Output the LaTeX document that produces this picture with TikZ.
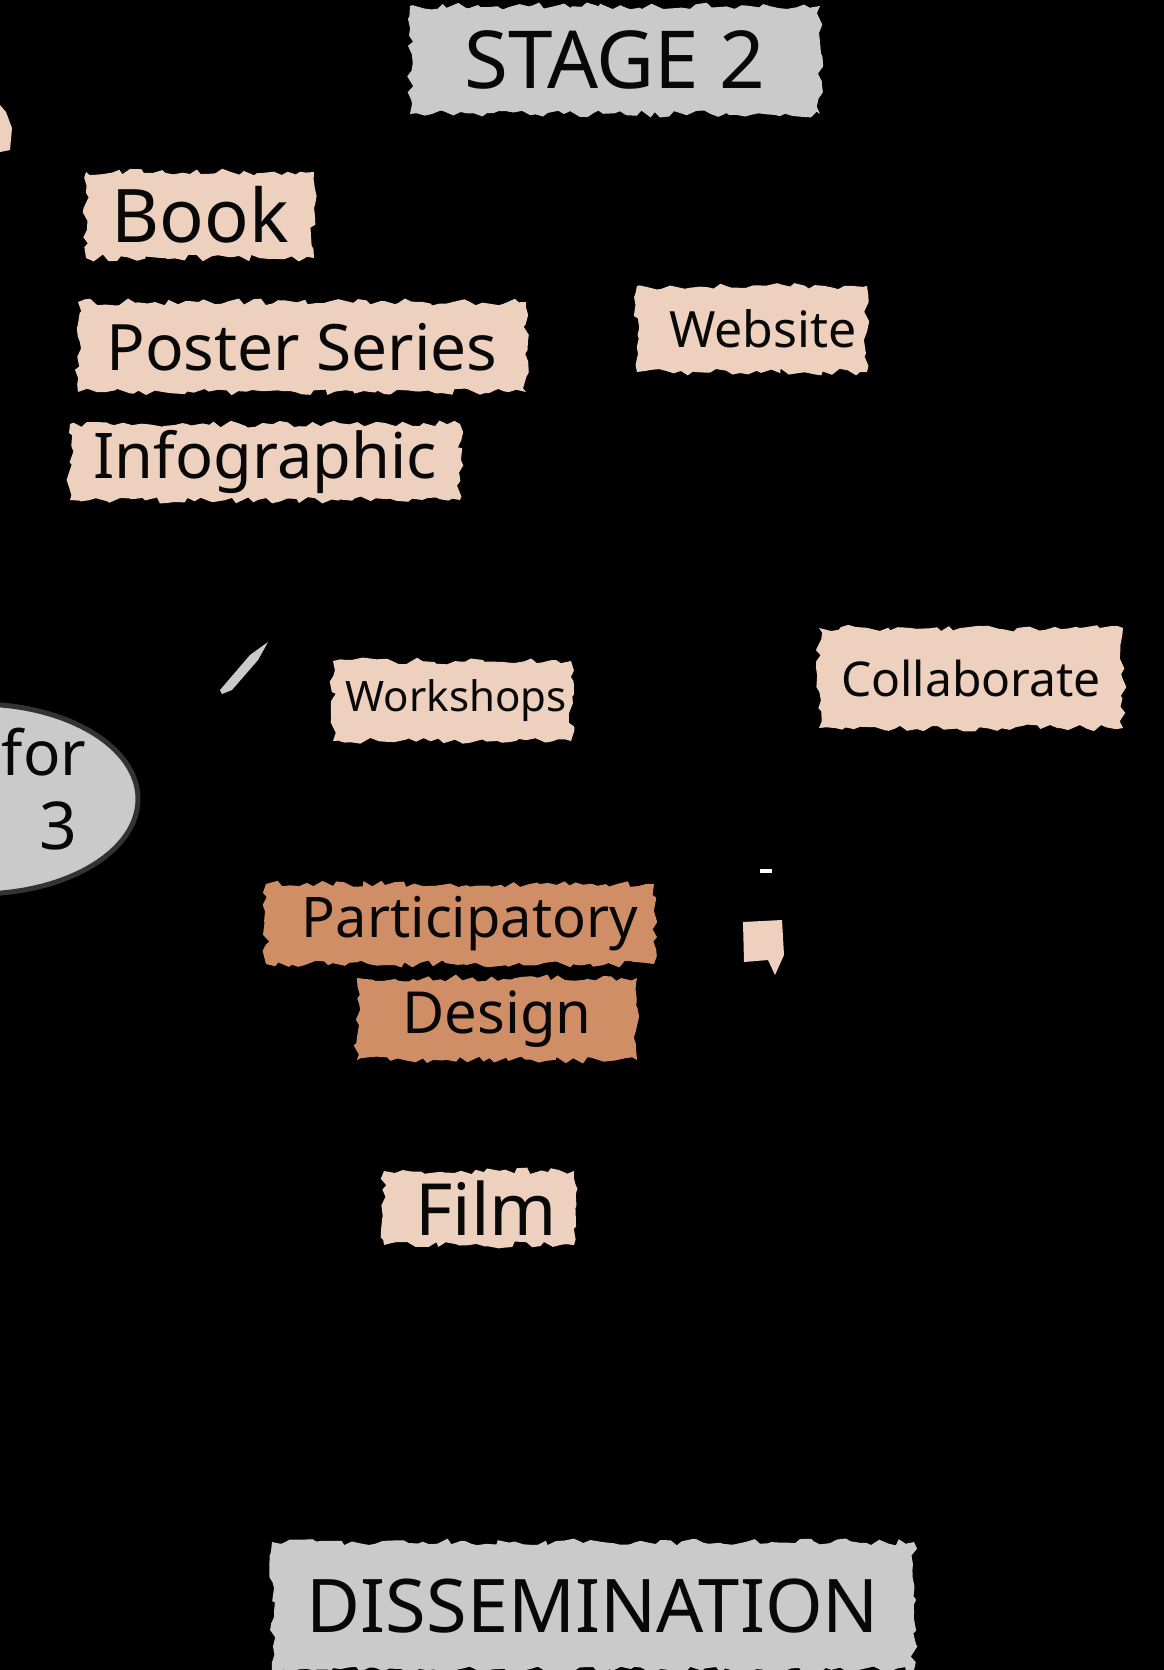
\documentclass[tikz,border=0pt]{standalone}
\usepackage{fontspec}
\setmainfont{Noto Sans}
\definecolor{peach1}{RGB}{238, 208, 190}
\definecolor{clay1}{RGB}{208, 142, 102}
\definecolor{grey1}{RGB}{202, 202, 202}
\definecolor{ink1}{RGB}{8, 8, 8}
\usepackage{tikz}
\usetikzlibrary{shapes, positioning, decorations.pathmorphing}

\tikzset{
  torn/.style={decorate, decoration={random steps, segment length=7pt, amplitude=3.5pt}, inner sep=0pt, text=ink1},
  tornlight/.style={torn, fill=peach1},
  torndark/.style={torn, fill=clay1},
  torngrey/.style={torn, fill=grey1},
}

\begin{document}
\begin{tikzpicture}[x=1pt, y=-1pt]
  \pgfmathsetseed{7}
  \fill[black] (0,0) rectangle (1164,1670);
  \useasboundingbox (0,0) rectangle (1164,1670);
  \clip (0,0) rectangle (1164,1670);

  % Stage heading
  \node[torngrey, minimum width=410pt, minimum height=108pt, font=\fontsize{80}{88}\selectfont] (stage) at (615,60) {STAGE 2};

  % Print outputs
  \node[tornlight, minimum width=228pt, minimum height=86pt, font=\fontsize{74}{80}\selectfont] (book) at (200,215) {Book};
  \node[tornlight, minimum width=448pt, minimum height=90pt, font=\fontsize{64}{70}\selectfont] (poster) at (302,347) {Poster Series};
  \node[tornlight, minimum width=390pt, minimum height=76pt, font=\fontsize{63}{68}\selectfont] (infographic) at (265,462) {Infographic};
  \node[tornlight, minimum width=230pt, minimum height=86pt, font=\fontsize{50}{56}\selectfont] (website) at (752,329) {\hspace*{22pt}Website};

  % Engagement
  \node[tornlight, minimum width=238pt, minimum height=80pt, font=\fontsize{42}{46}\selectfont] (workshops) at (452,701) {\hspace*{8pt}Workshops};
  \node[tornlight, minimum width=304pt, minimum height=100pt, font=\fontsize{48}{54}\selectfont] (collaborate) at (971,678) {Collaborate};

  % Next stage (cut off at the edge)
  \node[ellipse, fill=grey1, draw=black!80, line width=5pt, minimum width=320pt, minimum height=190pt] (nextstage) at (-22,799) {};
  \node[text=ink1, font=\fontsize{62}{66}\selectfont] (nextfor) at (44,752) {for};
  \node[text=ink1, font=\fontsize{66}{70}\selectfont] (nextthree) at (58,826) {3};

  % Participatory design
  \node[torndark, minimum width=388pt, minimum height=80pt, font=\fontsize{56}{62}\selectfont] (participatory) at (460,924) {\hspace*{20pt}Participatory};
  \node[torndark, minimum width=280pt, minimum height=82pt, font=\fontsize{58}{62}\selectfont] (design) at (497,1019) {Design};

  % Film
  \node[tornlight, minimum width=190pt, minimum height=74pt, font=\fontsize{72}{76}\selectfont] (film) at (479,1208) {\hspace*{14pt}Film};

  % Dissemination
  \node[torngrey, minimum width=642pt, minimum height=128pt, font=\fontsize{74}{80}\selectfont] (dissemination) at (593,1606) {DISSEMINATION};

  % Stray fragments
  \fill[peach1] (0,105) -- (6,112) -- (12,128) -- (10,150) -- (0,152) -- cycle;
  \fill[grey1] (220,690) -- (250,655) -- (268,642) -- (258,660) -- (232,690) -- (222,694) -- cycle;
  \fill[peach1] (743,922) -- (782,920) -- (784,955) -- (775,975) -- (768,960) -- (744,962) -- cycle;
  \fill[white] (760,869) rectangle (772,873);
\end{tikzpicture}
\end{document}
